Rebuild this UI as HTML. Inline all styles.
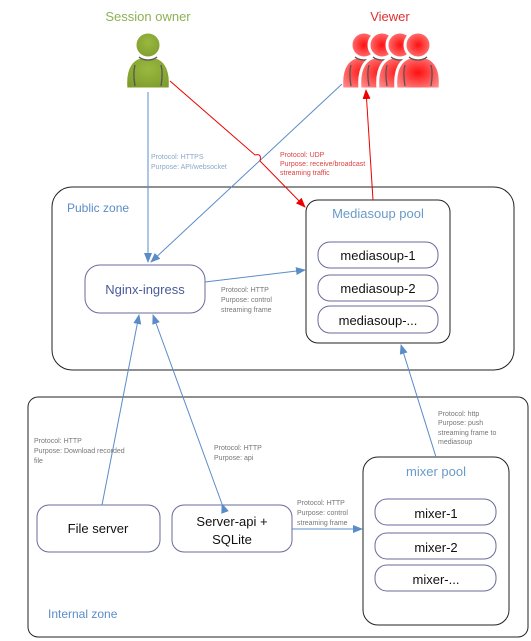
<!DOCTYPE html>
<html><head><meta charset="utf-8"><style>
body{margin:0;background:#fff;}
svg{display:block;font-family:"Liberation Sans",sans-serif;}
.s{font-size:7px;fill:#777;}
</style></head><body>
<svg width="531" height="641" viewBox="0 0 531 641" xmlns="http://www.w3.org/2000/svg">
<defs>
<marker id="ab" markerWidth="10" markerHeight="8" refX="9" refY="4" orient="auto" markerUnits="userSpaceOnUse"><path d="M0,0 L10,4 L0,8 z" fill="#5b8cc8"/></marker>
<marker id="ar" markerWidth="10" markerHeight="8" refX="9" refY="4" orient="auto" markerUnits="userSpaceOnUse"><path d="M0,0 L10,4 L0,8 z" fill="#e00"/></marker>
<radialGradient id="rg" cx="0.5" cy="0.5" r="0.6"><stop offset="0" stop-color="#ff1010"/><stop offset="1" stop-color="#f88"/></radialGradient>
<radialGradient id="gg" cx="0.5" cy="0.4" r="0.7"><stop offset="0" stop-color="#9ab840"/><stop offset="1" stop-color="#7a9a2a"/></radialGradient>
<g id="p">
<path d="M-22,42 C-24,20 -16,9 0,9 C16,9 24,20 22,42 Z" stroke="#fff" stroke-width="3"/>
<circle cx="0" cy="-2" r="13" stroke="#fff" stroke-width="3"/>
<path d="M-13,18 C-15,25 -14,33 -13,39 M13,18 C15,25 14,33 13,39 M-9,10 C-4,14 4,14 9,10" stroke="#555" stroke-width="1.3" fill="none"/>
</g>
</defs>

<text x="148" y="21" text-anchor="middle" font-size="13" fill="#8fb153">Session owner</text>
<text x="390" y="21" text-anchor="middle" font-size="13" fill="#e03030">Viewer</text>

<use href="#p" x="148" y="47" fill="url(#gg)"/>
<use href="#p" x="364" y="47" fill="url(#rg)"/>
<use href="#p" x="382" y="47" fill="url(#rg)"/>
<use href="#p" x="400" y="47" fill="url(#rg)"/>
<use href="#p" x="418" y="47" fill="url(#rg)"/>

<rect x="52" y="187" width="462" height="183" rx="20" fill="none" stroke="#222" stroke-width="1"/>
<text x="67" y="212" font-size="12" fill="#5b8cc8">Public zone</text>
<rect x="28" y="397" width="500" height="240" rx="10" fill="none" stroke="#222" stroke-width="1"/>
<text x="48" y="618" font-size="12" fill="#5b8cc8">Internal zone</text>

<rect x="306" y="200" width="144" height="143" rx="12" fill="#fff" stroke="#222"/>
<text x="378" y="218" text-anchor="middle" font-size="13" fill="#6a9ac8">Mediasoup pool</text>
<g stroke="#6a6a9a" fill="#fff">
<rect x="318" y="242" width="120" height="26" rx="12"/>
<rect x="318" y="275" width="120" height="26" rx="12"/>
<rect x="318" y="306" width="120" height="27" rx="12"/>
</g>
<g font-size="13" fill="#111" text-anchor="middle">
<text x="378" y="260">mediasoup-1</text>
<text x="378" y="293">mediasoup-2</text>
<text x="378" y="325">mediasoup-...</text>
</g>

<rect x="85" y="265" width="120" height="48" rx="15" fill="#fff" stroke="#6a6a9a"/>
<text x="145" y="294" text-anchor="middle" font-size="13" fill="#4a5a9a">Nginx-ingress</text>

<rect x="37" y="505" width="123" height="47" rx="12" fill="#fff" stroke="#6a6a9a"/>
<text x="98" y="533" text-anchor="middle" font-size="13" fill="#111">File server</text>
<rect x="172" y="505" width="120" height="47" rx="12" fill="#fff" stroke="#6a6a9a"/>
<text x="232" y="526" text-anchor="middle" font-size="13" fill="#111">Server-api +</text>
<text x="232" y="544" text-anchor="middle" font-size="13" fill="#111">SQLite</text>

<rect x="363" y="457" width="146" height="168" rx="15" fill="#fff" stroke="#222"/>
<text x="436" y="476" text-anchor="middle" font-size="13" fill="#6a9ac8">mixer pool</text>
<g stroke="#6a6a9a" fill="#fff">
<rect x="375" y="499" width="121" height="26" rx="12"/>
<rect x="375" y="533" width="121" height="26" rx="12"/>
<rect x="375" y="565" width="121" height="26" rx="12"/>
</g>
<g font-size="13" fill="#111" text-anchor="middle">
<text x="436" y="518">mixer-1</text>
<text x="436" y="552">mixer-2</text>
<text x="436" y="584">mixer-...</text>
</g>

<g stroke="#5b8cc8" stroke-width="1" fill="none">
<line x1="148" y1="92" x2="148" y2="262" marker-end="url(#ab)"/>
<line x1="342" y1="84" x2="151" y2="262" marker-end="url(#ab)"/>
<line x1="205" y1="282" x2="305" y2="270" marker-end="url(#ab)"/>
<line x1="102" y1="505" x2="139" y2="315" marker-end="url(#ab)"/>
<line x1="222" y1="504" x2="153" y2="315" marker-start="url(#ab)" marker-end="url(#ab)"/>
<line x1="292" y1="529" x2="362" y2="529" marker-end="url(#ab)"/>
<line x1="436" y1="457" x2="401" y2="345" marker-end="url(#ab)"/>
</g>
<g stroke="#e00" stroke-width="1" fill="none">
<path d="M170,81 L255,155 Q262,153 260,161 L305,207" marker-end="url(#ar)"/>
<line x1="373" y1="200" x2="366" y2="90" marker-end="url(#ar)"/>
</g>

<text class="s" x="151" y="159" style="fill:#8aa8c8">Protocol: HTTPS</text>
<text class="s" x="151" y="169" style="fill:#8aa8c8">Purpose: API/websocket</text>
<text class="s" x="280" y="157" style="fill:#e04040">Protocol: UDP</text>
<text class="s" x="280" y="166" style="fill:#e04040">Purpose: receive/broadcast</text>
<text class="s" x="280" y="175" style="fill:#e04040">streaming traffic</text>
<text class="s" x="221" y="292">Protocol: HTTP</text>
<text class="s" x="221" y="302">Purpose: control</text>
<text class="s" x="221" y="312">streaming frame</text>
<text class="s" x="34" y="443">Protocol: HTTP</text>
<text class="s" x="34" y="453">Purpose: Download recorded</text>
<text class="s" x="34" y="463">file</text>
<text class="s" x="214" y="450">Protocol: HTTP</text>
<text class="s" x="214" y="460">Purpose: api</text>
<text class="s" x="297" y="505">Protocol: HTTP</text>
<text class="s" x="297" y="515">Purpose: control</text>
<text class="s" x="297" y="525">streaming frame</text>
<text class="s" x="438" y="416">Protocol: http</text>
<text class="s" x="438" y="425">Purpose: push</text>
<text class="s" x="438" y="435">streaming frame to</text>
<text class="s" x="438" y="444">mediasoup</text>
</svg>
</body></html>
